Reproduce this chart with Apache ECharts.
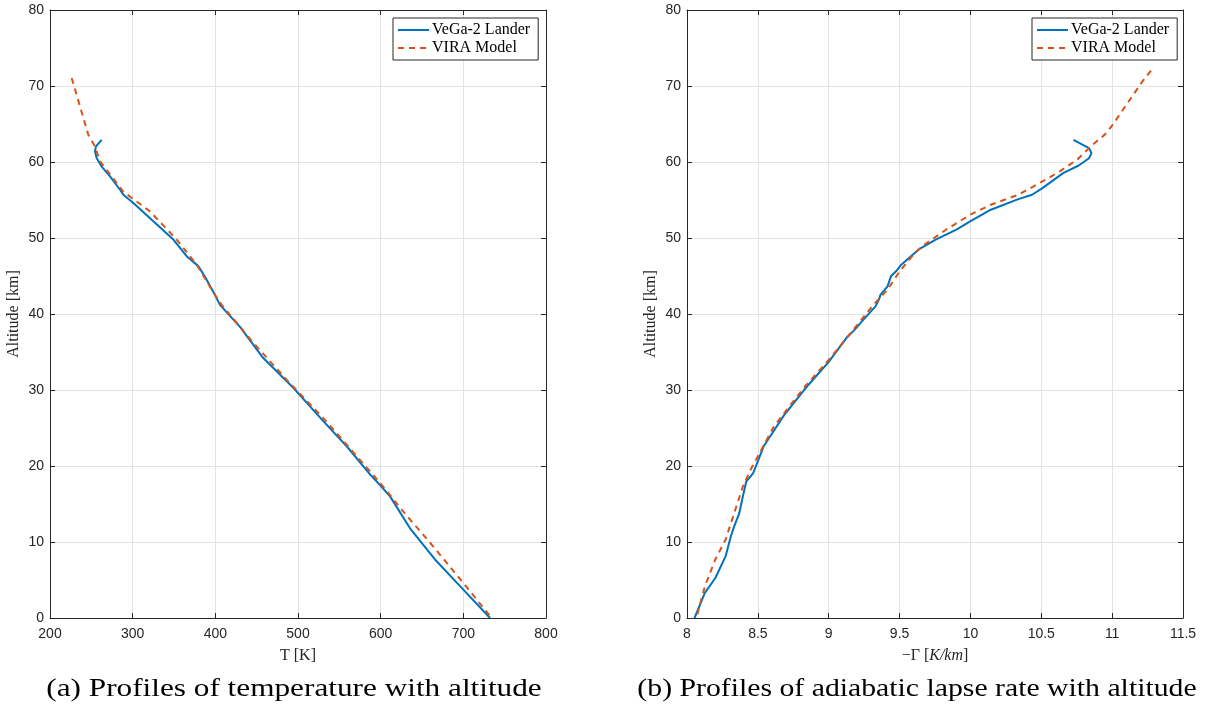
<!DOCTYPE html>
<html>
<head>
<meta charset="utf-8">
<script src="https://cdn.jsdelivr.net/npm/echarts@6/dist/echarts.min.js"></script>
<style>html,body{margin:0;padding:0;background:#fff;}#c{width:1205px;height:706px;}</style>
</head>
<body>
<div id="c"></div>
<script>
// (a) Temperature profiles
const vegaT    = [262.5, 255.6, 254.4, 256.5, 262.5, 272.6, 284.7, 288.7, 300.8, 325.0, 349.2, 365.3, 379.4, 387.5, 399.6, 405.6, 429.8, 458.0, 494.3, 530.6, 558.9, 587.1, 599.2, 611.3, 635.5, 665.7, 696.0, 732.3];
const vegaTAlt = [62.9, 62.05, 61.4, 60.5, 59.4, 58.1, 56.35, 55.7, 54.6, 52.2, 49.8, 47.6, 46.3, 44.9, 42.5, 41.2, 38.3, 34.2, 30.3, 25.9, 22.6, 18.9, 17.5, 16.0, 11.8, 7.7, 4.2, 0];
const viraT    = [226.2, 246.3, 254.4, 260.5, 288.7, 321.0, 353.2, 377.4, 399.6, 407.7, 446.0, 486.2, 530.6, 571.0, 599.2, 627.4, 663.7, 700.0, 734.3];
const viraTAlt = [71.05, 63.6, 62.05, 60.1, 56.1, 53.5, 49.8, 46.5, 42.5, 41.2, 36.2, 31.35, 26.3, 21.3, 17.8, 14.0, 9.4, 4.6, 0];
// (b) Adiabatic lapse rate profiles
const vegaG    = [10.727, 10.837, 10.854, 10.837, 10.764, 10.654, 10.508, 10.435, 10.338, 10.144, 9.998, 9.901, 9.755, 9.633, 9.512, 9.475, 9.439, 9.415, 9.366, 9.354, 9.330, 9.245, 9.184, 9.123, 9.0, 8.856, 8.685, 8.540, 8.467, 8.418, 8.394, 8.369, 8.333, 8.309, 8.272, 8.200, 8.126, 8.053];
const vegaGAlt = [62.92, 61.82, 61.17, 60.5, 59.54, 58.54, 56.57, 55.69, 55.12, 53.72, 52.19, 51.09, 49.78, 48.46, 46.49, 45.62, 44.96, 43.64, 42.55, 41.89, 41.0, 39.26, 37.95, 36.8, 33.7, 30.66, 26.7, 22.56, 19.05, 17.96, 15.99, 13.8, 12.05, 10.73, 8.1, 5.26, 3.3, 0];
const viraG    = [11.274, 11.213, 10.995, 10.946, 10.861, 10.752, 10.630, 10.508, 10.338, 10.144, 9.998, 9.828, 9.658, 9.597, 9.500, 9.415, 9.317, 9.220, 9.0, 8.831, 8.613, 8.442, 8.394, 8.333, 8.272, 8.199, 8.126, 8.066];
const viraGAlt = [72.03, 70.58, 64.67, 63.57, 62.26, 60.29, 58.76, 57.44, 55.69, 54.38, 53.06, 51.09, 48.9, 47.8, 45.6, 43.2, 41.24, 39.0, 33.95, 30.44, 25.2, 19.27, 17.3, 13.8, 10.3, 7.67, 4.16, 0];

const seriesNames = ['VeGa-2 Lander', 'VIRA Model'];
const captions = ['(a) Profiles of temperature with altitude', '(b) Profiles of adiabatic lapse rate with altitude'];

const zip = (xs, ys) => xs.map((v, i) => [v, ys[i]]);

const AX = '#262626';
const GRIDC = '#e3e3e3';
const SANS = '"Liberation Sans", Arial, sans-serif';
const SERIF = '"Liberation Serif", "Times New Roman", serif';

function bottomX(gi, min, max, interval, name) {
  return {
    type: 'value', gridIndex: gi, position: 'bottom', min, max, interval,
    name, nameLocation: 'middle', nameGap: 30,
    nameTextStyle: { fontFamily: SERIF, fontSize: 16, color: AX, rich: {
      i: { fontFamily: SERIF, fontStyle: 'italic', fontSize: 16, color: AX } } },
    axisLine: { show: true, onZero: false, lineStyle: { color: AX, width: 1 } },
    axisTick: { show: true, inside: true, length: 5, lineStyle: { color: AX } },
    axisLabel: { color: AX, fontFamily: SANS, fontSize: 14, margin: 9 },
    splitLine: { show: true, lineStyle: { color: GRIDC, width: 1 } }
  };
}
function topX(gi, min, max, interval) {
  return {
    type: 'value', gridIndex: gi, position: 'top', min, max, interval,
    axisLine: { show: true, onZero: false, lineStyle: { color: AX, width: 1 } },
    axisTick: { show: true, inside: true, length: 5, lineStyle: { color: AX } },
    axisLabel: { show: false }, splitLine: { show: false }
  };
}
function leftY(gi) {
  return {
    type: 'value', gridIndex: gi, position: 'left', min: 0, max: 80, interval: 10,
    name: 'Altitude [km]', nameLocation: 'middle', nameGap: 28,
    nameTextStyle: { fontFamily: SERIF, fontSize: 16, color: AX },
    axisLine: { show: true, onZero: false, lineStyle: { color: AX, width: 1 } },
    axisTick: { show: true, inside: true, length: 5, lineStyle: { color: AX } },
    axisLabel: { color: AX, fontFamily: SANS, fontSize: 14, margin: 6 },
    splitLine: { show: true, lineStyle: { color: GRIDC, width: 1 } }
  };
}
function rightY(gi) {
  return {
    type: 'value', gridIndex: gi, position: 'right', min: 0, max: 80, interval: 10,
    axisLine: { show: true, onZero: false, lineStyle: { color: AX, width: 1 } },
    axisTick: { show: true, inside: true, length: 5, lineStyle: { color: AX } },
    axisLabel: { show: false }, splitLine: { show: false }
  };
}
function legend(left) {
  return {
    data: seriesNames, orient: 'vertical', left, top: 18,
    backgroundColor: '#fff', borderColor: AX, borderWidth: 1, borderRadius: 0,
    padding: [4, 8, 4, 4], itemGap: 2, itemWidth: 31, itemHeight: 16,
    itemStyle: { opacity: 0, color: 'transparent', borderWidth: 0 },
    textStyle: { fontFamily: SERIF, fontSize: 16, lineHeight: 16, color: '#000', padding: [0, 0, 0, -2] },
    selectedMode: false
  };
}
function caption(text, cx, sx) {
  return {
    type: 'text', x: cx, y: 689, scaleX: sx, scaleY: 1, z: 10,
    style: { text, fontFamily: SERIF, fontSize: 25, fill: '#000', align: 'center', verticalAlign: 'middle' }
  };
}
const blue = { color: '#0072BD', width: 2 };
const orange = { color: '#D95319', width: 2, type: [6, 5] };

const chart = echarts.init(document.getElementById('c'), null, { renderer: 'canvas' });
chart.setOption({
  animation: false,
  backgroundColor: '#fff',
  graphic: [caption(captions[0], 294, 1.25), caption(captions[1], 917, 1.19)],
  grid: [
    { left: 50, top: 10, width: 496, height: 608 },
    { left: 687, top: 10, width: 496, height: 608 }
  ],
  legend: [legend(393), legend(1032)],
  xAxis: [
    bottomX(0, 200, 800, 100, 'T [K]'),
    topX(0, 200, 800, 100),
    bottomX(1, 8, 11.5, 0.5, '\u2212\u0393 [{i|K/km}]'),
    topX(1, 8, 11.5, 0.5)
  ],
  yAxis: [leftY(0), rightY(0), leftY(1), rightY(1)],
  series: [
    { name: seriesNames[0], type: 'line', xAxisIndex: 0, yAxisIndex: 0, data: zip(vegaT, vegaTAlt),
      showSymbol: false, symbol: 'none', lineStyle: blue, itemStyle: { color: blue.color }, z: 3 },
    { name: seriesNames[1], type: 'line', xAxisIndex: 0, yAxisIndex: 0, data: zip(viraT, viraTAlt),
      showSymbol: false, symbol: 'none', lineStyle: orange, itemStyle: { color: orange.color }, z: 4 },
    { name: seriesNames[0], type: 'line', xAxisIndex: 2, yAxisIndex: 2, data: zip(vegaG, vegaGAlt),
      showSymbol: false, symbol: 'none', lineStyle: blue, itemStyle: { color: blue.color }, z: 3 },
    { name: seriesNames[1], type: 'line', xAxisIndex: 2, yAxisIndex: 2, data: zip(viraG, viraGAlt),
      showSymbol: false, symbol: 'none', lineStyle: orange, itemStyle: { color: orange.color }, z: 4 }
  ]
});
</script>
</body>
</html>
